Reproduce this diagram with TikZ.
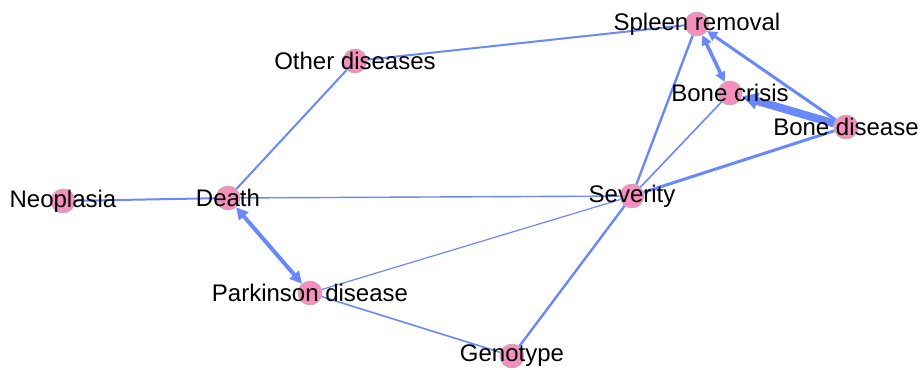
\documentclass[tikz,border=0pt]{standalone}
\usepackage{fontspec}
\setmainfont{Liberation Sans}
\usetikzlibrary{arrows.meta,backgrounds}
\definecolor{linkblue}{RGB}{104,136,252}
\definecolor{nodepink}{RGB}{244,143,190}
\tikzset{
  factor/.style={circle,fill=nodepink,draw=gray!60,line width=0.3pt,minimum size=12pt,inner sep=0pt},
  link/.style={draw=linkblue,line width=#1},
  link/.default=1pt,
  tipend/.style={-{Triangle[length=#1,width=#1]}},
  tipboth/.style={{Triangle[length=#1,width=#1]}-{Triangle[length=#1,width=#1]}}
}
\begin{document}
\begin{tikzpicture}[x=0.5pt,y=-0.5pt,font=\fontsize{12}{14}\selectfont]
  \useasboundingbox (0,0) rectangle (923,370);
  \node[factor,label={center:Neoplasia}] (neo) at (63,201) {};
  \node[factor,label={center:Death}] (death) at (228,198) {};
  \node[factor,label={center:Other diseases}] (other) at (355,61) {};
  \node[factor,label={center:Parkinson disease}] (park) at (310,293) {};
  \node[factor,label={center:Genotype}] (geno) at (512,356) {};
  \node[factor,label={center:Severity}] (sev) at (632,196) {};
  \node[factor,label={center:Spleen removal}] (spleen) at (697,24) {};
  \node[factor,label={center:Bone crisis}] (crisis) at (730,93) {};
  \node[factor,label={center:Bone disease}] (bone) at (846,127) {};

  % links behind the dots
  \begin{scope}[on background layer]
    \draw[link=1pt] (neo) -- (death);
    \draw[link=1pt] (death) -- (other);
    \draw[link=1pt] (other) -- (spleen);
    \draw[link=0.7pt] (death) -- (sev);
    \draw[link=2pt,tipboth=6pt] (death) -- (park);
    \draw[link=0.6pt] (park) -- (sev);
    \draw[link=0.8pt] (park) -- (geno);
    \draw[link=1.2pt] (geno) -- (sev);
    \draw[link=1.2pt] (sev) -- (spleen);
    \draw[link=0.8pt] (sev) -- (crisis);
    \draw[link=1.5pt] (sev) -- (bone);
    \draw[link=1.5pt,tipend=5pt] (bone) -- (spleen);
    \draw[link=1.8pt,tipboth=5pt] (spleen) -- (crisis);
    \draw[link=4pt,tipend=8pt] (bone) -- (crisis);
  \end{scope}
\end{tikzpicture}
\end{document}
